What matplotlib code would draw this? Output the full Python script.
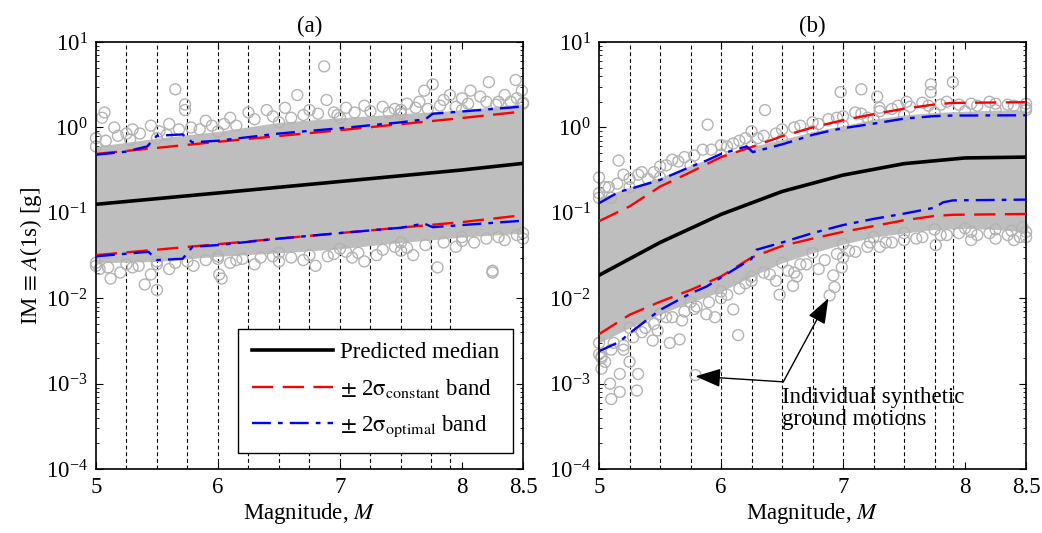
import numpy as np
import matplotlib
matplotlib.use("Agg")
import matplotlib.pyplot as plt

plt.rcParams['font.family'] = 'serif'
plt.rcParams['font.serif'] = ['Liberation Serif', 'DejaVu Serif']
plt.rcParams['mathtext.fontset'] = 'stix'
FS = 16.5
plt.rcParams['font.size'] = FS

# ---------------- data ----------------
vlines = [5.25, 5.5, 5.75, 6.0, 6.25, 6.5, 6.75, 7.0, 7.25, 7.5, 7.75, 7.9]
xticks = [5, 6, 7, 8, 8.5]

# panel (a)
a_med_m = [5.0, 6.0, 7.0, 8.0, 8.5]
a_med_v = [0.126, 0.171, 0.233, 0.318, 0.38]
a_red_m = [5.0, 6.0, 7.0, 8.0, 8.5]
a_red_up = [0.49, 0.68, 0.93, 1.29, 1.54]
a_red_lo = [0.032, 0.043, 0.058, 0.078, 0.094]
a_blu_up_m = [5.0, 5.24, 5.42, 5.5, 5.71, 5.79, 6.0, 6.5, 7.0, 7.5, 7.7, 7.76, 7.9, 8.5]
a_blu_up_v = [0.48, 0.52, 0.6, 0.8, 0.83, 0.67, 0.70, 0.85, 0.98, 1.15, 1.25, 1.45, 1.5, 1.76]
a_blu_lo_m = [5.0, 5.43, 5.5, 5.71, 5.79, 6.0, 6.5, 7.0, 7.5, 7.69, 7.76, 8.5]
a_blu_lo_v = [0.031, 0.035, 0.028, 0.029, 0.040, 0.042, 0.050, 0.058, 0.067, 0.075, 0.068, 0.081]
a_core_m = [5.0, 5.5, 6.0, 6.5, 7.0, 7.5, 8.0, 8.5]
a_core_up = [0.6, 0.75, 0.9, 1.15, 1.3, 1.45, 1.6, 1.9]
a_core_lo = [0.026, 0.027, 0.031, 0.034, 0.038, 0.045, 0.052, 0.058]
a_pts_m = [6.87, 5.65, 5.73, 5.73, 6.65, 6.89, 7.69, 7.76, 8.22, 8.44, 8.49, 7.9, 8.07,
           5.07, 5.05, 8.25, 7.8, 6.01, 5.12, 5.4, 5.5, 6.03, 8.25,
           5.15, 5.3, 5.45, 5.6, 5.9, 6.1, 6.25, 6.4, 6.55, 6.75, 7.05, 7.2, 7.35, 7.55,
           7.65, 7.85, 8.0, 8.15, 8.35, 5.25, 5.85, 6.95, 7.45, 8.3, 8.45, 8.5,
           5.03, 5.2, 5.3, 5.6, 5.8, 6.1, 6.3, 6.5, 6.7, 6.8, 7.1, 7.3, 7.5, 7.6, 7.95,
           8.1, 8.35, 8.5, 6.9, 5.45, 6.2, 7.2]
a_pts_v = [5.2, 2.8, 1.86, 1.6, 2.4, 2.1, 2.7, 3.2, 3.4, 3.6, 2.7, 2.4, 2.7,
           1.5, 1.3, 0.021, 0.023, 0.019, 0.017, 0.0145, 0.0125, 0.017, 0.02,
           1.0, 0.95, 1.05, 1.1, 1.2, 1.3, 1.5, 1.6, 1.7, 1.6, 1.7, 1.8, 1.75, 1.9,
           2.0, 2.1, 2.2, 2.3, 2.4, 0.85, 0.95, 1.5, 1.65, 2.0, 2.2, 1.95,
           0.022, 0.02, 0.023, 0.022, 0.024, 0.026, 0.025, 0.027, 0.028, 0.024, 0.03,
           0.032, 0.036, 0.032, 0.04, 0.045, 0.048, 0.05, 0.031, 0.019, 0.029, 0.027]
a_fringe_m = [5.0, 5.08, 5.18, 5.28, 5.36, 5.52, 5.58, 5.68, 5.78, 5.95, 6.05, 6.15, 6.3,
              6.45, 6.6, 6.7, 6.82, 6.98, 7.12, 7.25, 7.4, 7.5, 7.62, 7.72, 7.82, 7.95,
              8.05, 8.2, 8.28, 8.4,
              5.0, 5.1, 5.25, 5.35, 5.5, 5.65, 5.75, 5.9, 6.0, 6.15, 6.35, 6.45, 6.6,
              6.75, 6.95, 7.05, 7.15, 7.35, 7.45, 7.55, 7.7, 7.85, 8.0, 8.2, 8.3, 8.45]
a_fringe_v = [0.75, 0.7, 0.8, 0.72, 0.85, 0.9, 0.82, 0.95, 1.0, 1.05, 1.1, 1.05, 1.25,
              1.35, 1.3, 1.4, 1.45, 1.4, 1.5, 1.55, 1.5, 1.6, 1.7, 1.65, 1.8, 1.75,
              1.9, 2.0, 1.85, 2.0,
              0.024, 0.023, 0.025, 0.024, 0.025, 0.026, 0.027, 0.028, 0.029, 0.028, 0.03,
              0.031, 0.03, 0.032, 0.033, 0.035, 0.034, 0.037, 0.04, 0.039, 0.042, 0.045,
              0.047, 0.05, 0.052, 0.055]

# panel (b)
b_med_m = [5.0, 5.5, 6.0, 6.5, 7.0, 7.5, 8.0, 8.5]
b_med_v = [0.0186, 0.045, 0.096, 0.178, 0.277, 0.377, 0.44, 0.45]
b_red_m = [5.0, 5.25, 5.5, 5.75, 6.0, 6.25, 6.5, 6.75, 7.0, 7.25, 7.5, 7.75, 7.9, 8.5]
b_red_up = [0.08, 0.119, 0.203, 0.30, 0.45, 0.59, 0.79, 1.0, 1.22, 1.43, 1.66, 1.86, 1.94, 1.98]
b_red_lo = [0.0038, 0.0064, 0.0091, 0.0125, 0.018, 0.030, 0.041, 0.05, 0.06, 0.07, 0.082,
            0.092, 0.095, 0.097]
b_blu_up_m = [5.0, 5.17, 5.25, 5.5, 5.75, 5.88, 6.0, 6.21, 6.26, 6.51, 6.75, 6.9, 7.0,
              7.25, 7.5, 7.75, 7.9, 8.5]
b_blu_up_v = [0.13, 0.178, 0.19, 0.243, 0.347, 0.41, 0.49, 0.60, 0.515, 0.64, 0.82, 0.92,
              0.98, 1.11, 1.27, 1.36, 1.38, 1.39]
b_blu_lo_m = [5.0, 5.17, 5.25, 5.5, 5.75, 5.88, 6.0, 6.25, 6.29, 6.5, 6.75, 7.0, 7.25,
              7.5, 7.75, 7.82, 7.9, 8.5]
b_blu_lo_v = [0.0024, 0.0031, 0.0039, 0.0073, 0.0114, 0.0137, 0.0175, 0.029, 0.037, 0.045,
              0.058, 0.072, 0.085, 0.098, 0.115, 0.133, 0.14, 0.143]
b_core_m = [5.0, 5.25, 5.5, 5.75, 6.0, 6.25, 6.5, 6.75, 7.0, 7.25, 7.5, 7.75, 8.0, 8.25, 8.5]
b_core_up = [0.15, 0.2, 0.26, 0.36, 0.48, 0.6, 0.72, 0.9, 1.05, 1.25, 1.4, 1.5, 1.55, 1.6, 1.6]
b_core_lo = [0.003, 0.0045, 0.0065, 0.009, 0.012, 0.018, 0.026, 0.034, 0.043, 0.052, 0.058,
             0.064, 0.066, 0.064, 0.06]
b_pts_m = [5.16, 5.0, 5.89, 6.36, 6.98, 7.15, 7.72, 7.9, 7.72, 7.28, 7.52, 8.05, 7.76, 8.47,
           8.38, 6.99, 6.92, 7.22, 6.62,
           6.14, 6.89, 6.93, 5.79, 5.1, 5.17, 5.31, 5.09, 5.02, 5.02, 5.17, 5.32, 5.25, 5.66,
           5.58, 5.44, 5.88, 5.95, 6.1, 6.48, 6.59,
           5.05, 5.2, 5.35, 5.5, 5.6, 5.7, 5.85, 6.05, 6.15, 6.3, 6.45, 6.6, 6.8, 6.95, 7.1,
           7.3, 7.45, 7.65, 7.85, 8.05, 8.2, 8.35, 8.5, 5.1, 5.4, 6.25, 7.2,
           5.02, 5.1, 5.2, 5.35, 5.45, 5.55, 5.7, 5.8, 6.0, 6.2, 6.35, 6.45, 6.7, 6.8, 7.1,
           7.3, 7.4, 7.6, 7.85, 8.1, 8.25, 8.4, 8.5, 7.0, 6.6]
b_pts_v = [0.41, 0.26, 1.08, 1.6, 2.6, 2.8, 3.2, 3.4, 2.6, 2.3, 2.0, 0.048, 0.042, 0.068,
           0.062, 0.023, 0.0185, 0.045, 0.018,
           0.0037, 0.0108, 0.0135, 0.00126, 0.00066, 0.0008, 0.00083, 0.001, 0.0015, 0.0021,
           0.0013, 0.0013, 0.0018, 0.0033, 0.003, 0.0032, 0.0065, 0.006, 0.0074, 0.011, 0.014,
           0.2, 0.28, 0.3, 0.35, 0.42, 0.45, 0.55, 0.6, 0.7, 0.75, 0.85, 1.0, 1.1, 1.3, 1.5,
           1.7, 1.8, 1.95, 2.0, 1.9, 2.0, 1.85, 1.7, 0.15, 0.25, 0.9, 1.3,
           0.002, 0.0025, 0.0028, 0.004, 0.005, 0.006, 0.007, 0.008, 0.01, 0.015, 0.02, 0.016,
           0.025, 0.022, 0.035, 0.04, 0.045, 0.05, 0.055, 0.055, 0.05, 0.048, 0.052, 0.03, 0.02]
b_fringe_m = [5.0, 5.08, 5.15, 5.25, 5.32, 5.45, 5.55, 5.65, 5.78, 5.92, 6.0, 6.1, 6.2,
              6.35, 6.5, 6.65, 6.75, 6.88, 7.0, 7.15, 7.3, 7.4, 7.55, 7.7, 7.8, 7.95, 8.1,
              8.25, 8.4, 8.5,
              5.0, 5.05, 5.12, 5.2, 5.28, 5.38, 5.48, 5.6, 5.68, 5.78, 5.9, 6.05, 6.15,
              6.25, 6.4, 6.55, 6.65, 6.85, 6.95, 7.05, 7.2, 7.35, 7.5, 7.65, 7.8, 7.95,
              8.05, 8.2, 8.35, 8.45]
b_fringe_v = [0.17, 0.2, 0.22, 0.25, 0.28, 0.3, 0.36, 0.4, 0.47, 0.55, 0.62, 0.65, 0.75,
              0.8, 0.95, 1.05, 1.15, 1.25, 1.35, 1.45, 1.55, 1.65, 1.75, 1.8, 1.85, 1.85,
              1.8, 1.9, 1.8, 1.9,
              0.0022, 0.0018, 0.003, 0.0025, 0.0035, 0.0045, 0.0042, 0.006, 0.0055, 0.0075,
              0.009, 0.011, 0.013, 0.016, 0.019, 0.021, 0.025, 0.028, 0.033, 0.036, 0.04,
              0.045, 0.048, 0.052, 0.055, 0.058, 0.06, 0.058, 0.055, 0.052]

grey = '#bebebe'
circ = dict(marker='o', s=62, facecolors='none', edgecolors='#b3b3b3', linewidths=1.0,
            clip_on=False, zorder=2)

fig = plt.figure(figsize=(10.42, 5.33), dpi=100)
ax_a = fig.add_axes([0.0921, 0.120, 0.4098, 0.801])
ax_b = fig.add_axes([0.5749, 0.120, 0.4098, 0.801])


def draw_panel(ax, core_m, core_up, core_lo, pts_m, pts_v, fr_m, fr_v, med_m, med_v,
               red_m, red_up, red_lo, bup_m, bup_v, blo_m, blo_v, title):
    for v in vlines:
        ax.axvline(v, color='k', lw=0.8, ls=(0, (3.5, 2.5)), zorder=1)
    ax.fill_between(core_m, core_lo, core_up, color=grey, lw=0, zorder=2)
    ax.scatter(core_m, core_up, **circ)
    ax.scatter(core_m, core_lo, **circ)
    ax.scatter(fr_m, fr_v, **circ)
    ax.scatter(pts_m, pts_v, **circ)
    l1, = ax.plot(med_m, med_v, color='k', lw=2.6, zorder=5)
    l2, = ax.plot(red_m, red_up, color='#ff0000', lw=1.7, ls=(0, (9, 4)), zorder=4)
    ax.plot(red_m, red_lo, color='#ff0000', lw=1.7, ls=(0, (9, 4)), zorder=4)
    l3, = ax.plot(bup_m, bup_v, color='#0000ff', lw=1.7, ls=(0, (8, 3, 2, 3)), zorder=4)
    ax.plot(blo_m, blo_v, color='#0000ff', lw=1.7, ls=(0, (8, 3, 2, 3)), zorder=4)
    ax.set_yscale('log')
    ax.set_xlim(5, 8.5)
    ax.set_ylim(1e-4, 1e1)
    ax.set_xticks(xticks)
    ax.set_xticklabels(['5', '6', '7', '8', '8.5'])
    ax.set_yticks([1e-4, 1e-3, 1e-2, 1e-1, 1e0, 1e1])
    ax.tick_params(which='both', direction='in', top=True, right=True, labelsize=FS)
    ax.tick_params(which='major', length=5, width=0.8, pad=6)
    ax.tick_params(which='minor', length=2.5, width=0.6)
    for s in ax.spines.values():
        s.set_linewidth(1.2)
    ax.set_xlabel('Magnitude, $M$', fontsize=FS, labelpad=2)
    ax.set_title(title, fontsize=FS, pad=7)
    return l1, l2, l3


h = draw_panel(ax_a, a_core_m, a_core_up, a_core_lo, a_pts_m, a_pts_v, a_fringe_m, a_fringe_v,
               a_med_m, a_med_v, a_red_m, a_red_up, a_red_lo,
               a_blu_up_m, a_blu_up_v, a_blu_lo_m, a_blu_lo_v, '(a)')
draw_panel(ax_b, b_core_m, b_core_up, b_core_lo, b_pts_m, b_pts_v, b_fringe_m, b_fringe_v,
           b_med_m, b_med_v, b_red_m, b_red_up, b_red_lo,
           b_blu_up_m, b_blu_up_v, b_blu_lo_m, b_blu_lo_v, '(b)')

ax_a.set_ylabel(r'IM$\,\equiv\,$$A$(1s) [g]', fontsize=FS, labelpad=1)

leg = ax_a.legend(h, ['Predicted median',
                      r'$\pm$ 2$\mathrm{\sigma}_{\mathrm{constant}}$ band',
                      r'$\pm$ 2$\mathrm{\sigma}_{\mathrm{optimal}}$ band'],
                  loc='lower right', bbox_to_anchor=(0.976, 0.037), fontsize=FS,
                  handlelength=3.55, labelspacing=0.6, borderpad=0.6, handletextpad=0.3,
                  borderaxespad=0, fancybox=False, framealpha=1, edgecolor='k')
leg.get_frame().set_linewidth(1.0)
leg.set_zorder(10)

# annotation in (b)
for tip in [(5.79, 0.00122), (6.88, 0.0100)]:
    ax_b.annotate('', xy=tip, xytext=(6.51, 0.00105),
                  arrowprops=dict(arrowstyle='-|>,head_length=0.95,head_width=0.35',
                                  color='k', lw=1.0, shrinkA=0, shrinkB=0), zorder=6)
ax_b.text(6.5, 0.00092, 'Individual synthetic\nground motions', fontsize=FS,
          ha='left', va='top', linespacing=1.1, zorder=6)

fig.savefig('out.png', dpi=100)
